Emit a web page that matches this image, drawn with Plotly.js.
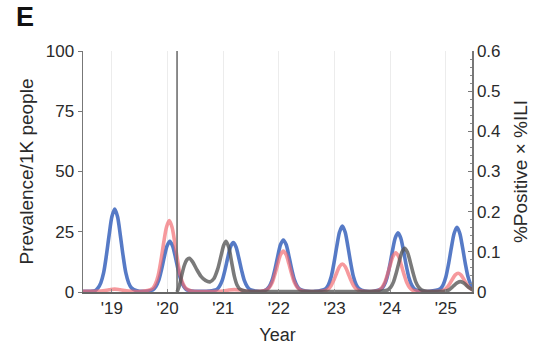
<!DOCTYPE html>
<html>
<head>
<meta charset="utf-8">
<script src="https://cdn.plot.ly/plotly-3.0.1.min.js"></script>
<style>html,body{margin:0;padding:0;background:#fff;}#chart{width:539px;height:350px;}</style>
</head>
<body>
<div id="chart"></div>
<script>
// Tick labels
const yearTicks = [2019, 2020, 2021, 2022, 2023, 2024, 2025];
const yearLabels = ["'19", "'20", "'21", "'22", "'23", "'24", "'25"];
const leftTicks = [0, 25, 50, 75, 100];
const eventYear = 2020.17;

// Blue series (prevalence per 1K)
const blueX = [2018.48, 2018.6, 2018.7, 2018.75, 2018.8, 2018.85, 2018.9, 2018.95, 2019.0, 2019.05, 2019.1, 2019.15, 2019.2, 2019.25, 2019.3, 2019.35, 2019.45, 2019.6,
  2019.74, 2019.79, 2019.84, 2019.89, 2019.94, 2019.99, 2020.04, 2020.09, 2020.14, 2020.19, 2020.24, 2020.29, 2020.34, 2020.44, 2020.6, 2020.75,
  2020.88, 2020.93, 2020.98, 2021.03, 2021.08, 2021.13, 2021.18, 2021.23, 2021.28, 2021.33, 2021.38, 2021.43, 2021.48, 2021.58, 2021.7,
  2021.78, 2021.83, 2021.88, 2021.93, 2021.98, 2022.03, 2022.08, 2022.13, 2022.18, 2022.23, 2022.28, 2022.33, 2022.38, 2022.48, 2022.65,
  2022.84, 2022.89, 2022.94, 2022.99, 2023.04, 2023.09, 2023.14, 2023.19, 2023.24, 2023.29, 2023.34, 2023.39, 2023.44, 2023.54, 2023.7,
  2023.84, 2023.89, 2023.94, 2023.99, 2024.04, 2024.09, 2024.14, 2024.19, 2024.24, 2024.29, 2024.34, 2024.39, 2024.44, 2024.54, 2024.7,
  2024.9, 2024.95, 2025.0, 2025.05, 2025.1, 2025.15, 2025.2, 2025.25, 2025.3, 2025.35, 2025.4, 2025.45, 2025.48];
const blueY = [0.3, 0.3, 0.6, 1.7, 3.8, 7.9, 15.1, 23.7, 31.3, 34.4, 31.3, 23.7, 15.1, 7.9, 3.8, 1.7, 0.5, 0.3,
  1.0, 2.3, 4.8, 9.2, 14.5, 19.1, 21.0, 19.1, 14.5, 9.2, 4.8, 2.3, 1.0, 0.4, 0.3, 0.4,
  1.0, 2.3, 4.7, 9.0, 14.1, 18.7, 20.5, 18.7, 14.1, 9.0, 4.7, 2.3, 1.0, 0.4, 0.3,
  1.1, 2.4, 5.0, 9.5, 14.9, 19.7, 21.6, 19.7, 14.9, 9.5, 5.0, 2.4, 1.1, 0.4, 0.3,
  1.4, 3.0, 6.3, 12.1, 18.9, 24.9, 27.4, 24.9, 18.9, 12.1, 6.3, 3.0, 1.4, 0.4, 0.3,
  1.2, 2.7, 5.7, 10.8, 17.0, 22.4, 24.6, 22.4, 17.0, 10.8, 5.7, 2.7, 1.2, 0.4, 0.3,
  1.3, 2.9, 6.2, 11.8, 18.5, 24.4, 26.8, 24.4, 18.5, 11.8, 6.2, 2.9, 1.8];

// Red series
const redX = [2018.48, 2018.8, 2018.95, 2019.05, 2019.15, 2019.3, 2019.5,
  2019.73, 2019.78, 2019.83, 2019.88, 2019.93, 2019.98, 2020.03, 2020.08, 2020.13, 2020.18, 2020.23, 2020.28, 2020.33, 2020.43, 2020.7,
  2021.0, 2021.1, 2021.2, 2021.3, 2021.4, 2021.6,
  2021.78, 2021.83, 2021.88, 2021.93, 2021.98, 2022.03, 2022.08, 2022.13, 2022.18, 2022.23, 2022.28, 2022.33, 2022.38, 2022.48, 2022.7,
  2022.84, 2022.89, 2022.94, 2022.99, 2023.04, 2023.09, 2023.14, 2023.19, 2023.24, 2023.29, 2023.34, 2023.39, 2023.44, 2023.54, 2023.65,
  2023.8, 2023.85, 2023.9, 2023.95, 2024.0, 2024.05, 2024.1, 2024.15, 2024.2, 2024.25, 2024.3, 2024.35, 2024.4, 2024.5, 2024.7,
  2024.92, 2024.97, 2025.02, 2025.07, 2025.12, 2025.17, 2025.22, 2025.27, 2025.32, 2025.37, 2025.42, 2025.48];
const redY = [0.3, 0.4, 0.9, 1.2, 0.9, 0.4, 0.2,
  1.5, 3.3, 6.8, 13.0, 20.4, 26.9, 29.6, 26.9, 20.4, 13.0, 6.8, 3.3, 1.5, 0.4, 0.2,
  0.4, 0.8, 1.0, 0.8, 0.4, 0.2,
  0.9, 1.9, 3.9, 7.5, 11.7, 15.5, 17.0, 15.5, 11.7, 7.5, 3.9, 1.9, 0.9, 0.3, 0.2,
  0.6, 1.3, 2.7, 5.1, 8.0, 10.6, 11.6, 10.6, 8.0, 5.1, 2.7, 1.3, 0.6, 0.3, 0.2,
  0.8, 1.8, 3.8, 7.2, 11.2, 14.8, 16.3, 14.8, 11.2, 7.2, 3.8, 1.8, 0.8, 0.3, 0.2,
  0.4, 0.9, 1.8, 3.4, 5.4, 7.1, 7.8, 7.1, 5.4, 3.4, 1.8, 0.9];

// Gray series
const grayX = [2020.17, 2020.21, 2020.25, 2020.3, 2020.35, 2020.39, 2020.45, 2020.52, 2020.6, 2020.68, 2020.76, 2020.83, 2020.9, 2020.96, 2021.01, 2021.05, 2021.1, 2021.15, 2021.2, 2021.25, 2021.3, 2021.4, 2021.6,
  2022.5, 2023.5, 2023.86, 2023.96, 2024.01, 2024.06, 2024.11, 2024.16, 2024.21, 2024.26, 2024.31, 2024.36, 2024.41, 2024.46, 2024.51, 2024.56, 2024.66, 2024.85,
  2024.96, 2025.06, 2025.11, 2025.16, 2025.21, 2025.26, 2025.31, 2025.36, 2025.41, 2025.48];
const grayY = [0.0, 2.5, 6.5, 11.0, 13.5, 14.0, 12.5, 9.5, 6.5, 4.8, 4.2, 5.5, 9.5, 15.0, 19.5, 21.0, 18.5, 12.5, 6.5, 2.8, 1.2, 0.4, 0.2,
  0.2, 0.2, 0.4, 0.9, 2.0, 4.2, 8.0, 12.5, 16.5, 18.1, 16.5, 12.5, 8.0, 4.2, 2.0, 0.9, 0.3, 0.2,
  0.3, 0.9, 1.9, 3.0, 3.9, 4.3, 3.9, 3.0, 1.9, 0.9];

const FONT = "Liberation Sans, Arial, sans-serif";

const traces = [
  {x: blueX, y: blueY, mode: 'lines', line: {color: 'rgba(68,108,192,0.9)', width: 3.6, shape: 'spline', smoothing: 0.8}, hoverinfo: 'skip', showlegend: false},
  {x: redX, y: redY, mode: 'lines', line: {color: 'rgba(242,105,110,0.68)', width: 3.6, shape: 'spline', smoothing: 0.8}, hoverinfo: 'skip', showlegend: false},
  {x: grayX, y: grayY, mode: 'lines', line: {color: 'rgba(85,85,85,0.78)', width: 3.6, shape: 'spline', smoothing: 0.8}, hoverinfo: 'skip', showlegend: false},
  {x: [], y: [], yaxis: 'y2', mode: 'lines', showlegend: false, hoverinfo: 'skip'}
];

const layout = {
  width: 539, height: 350,
  margin: {l: 83, r: 67, t: 51, b: 58},
  paper_bgcolor: '#fff', plot_bgcolor: '#fff',
  font: {family: FONT, size: 17, color: '#2a2a2a'},
  showlegend: false,
  xaxis: {
    range: [2018.48, 2025.47],
    tickvals: yearTicks, ticktext: yearLabels,
    showgrid: true, gridcolor: '#ececec', gridwidth: 1,
    zeroline: false,
    showline: true, linecolor: '#666', linewidth: 1.5,
    ticks: 'inside', ticklen: 3, tickcolor: '#888',
    tickfont: {family: FONT, size: 17, color: '#2a2a2a'},
    title: {text: 'Year', font: {family: FONT, size: 18, color: '#2a2a2a'}, standoff: 11}
  },
  yaxis: {
    range: [0, 100],
    tickvals: leftTicks,
    showgrid: false, zeroline: false,
    showline: true, linecolor: '#777', linewidth: 1.5,
    ticks: 'outside', ticklen: 4, tickcolor: '#777',
    tickfont: {family: FONT, size: 17, color: '#2a2a2a'},
    title: {text: 'Prevalence/1K people', font: {family: FONT, size: 19, color: '#2a2a2a'}, standoff: 7}
  },
  yaxis2: {
    overlaying: 'y', side: 'right',
    range: [0, 0.6], dtick: 0.1, tick0: 0,
    showgrid: false, zeroline: false,
    showline: true, linecolor: '#777', linewidth: 1.5,
    ticks: 'inside', ticklen: 4, tickcolor: '#777',
    minor: {dtick: 0.02, ticks: 'inside', ticklen: 2.5, tickcolor: '#888', showgrid: false},
    tickfont: {family: FONT, size: 17, color: '#2a2a2a'},
    title: {text: '%Positive × %ILI', font: {family: FONT, size: 19, color: '#2a2a2a'}, standoff: 14}
  },
  shapes: [
    {type: 'line', xref: 'x', yref: 'paper', x0: eventYear, x1: eventYear, y0: 0, y1: 1, line: {color: '#666', width: 1.5}}
  ],
  annotations: [
    {text: '<b>E</b>', xref: 'paper', yref: 'paper', x: -0.149, y: 1.142, xanchor: 'center', yanchor: 'middle', showarrow: false, font: {family: FONT, size: 27, color: '#111'}}
  ]
};

Plotly.newPlot('chart', traces, layout, {displayModeBar: false, staticPlot: true});
</script>
</body>
</html>
